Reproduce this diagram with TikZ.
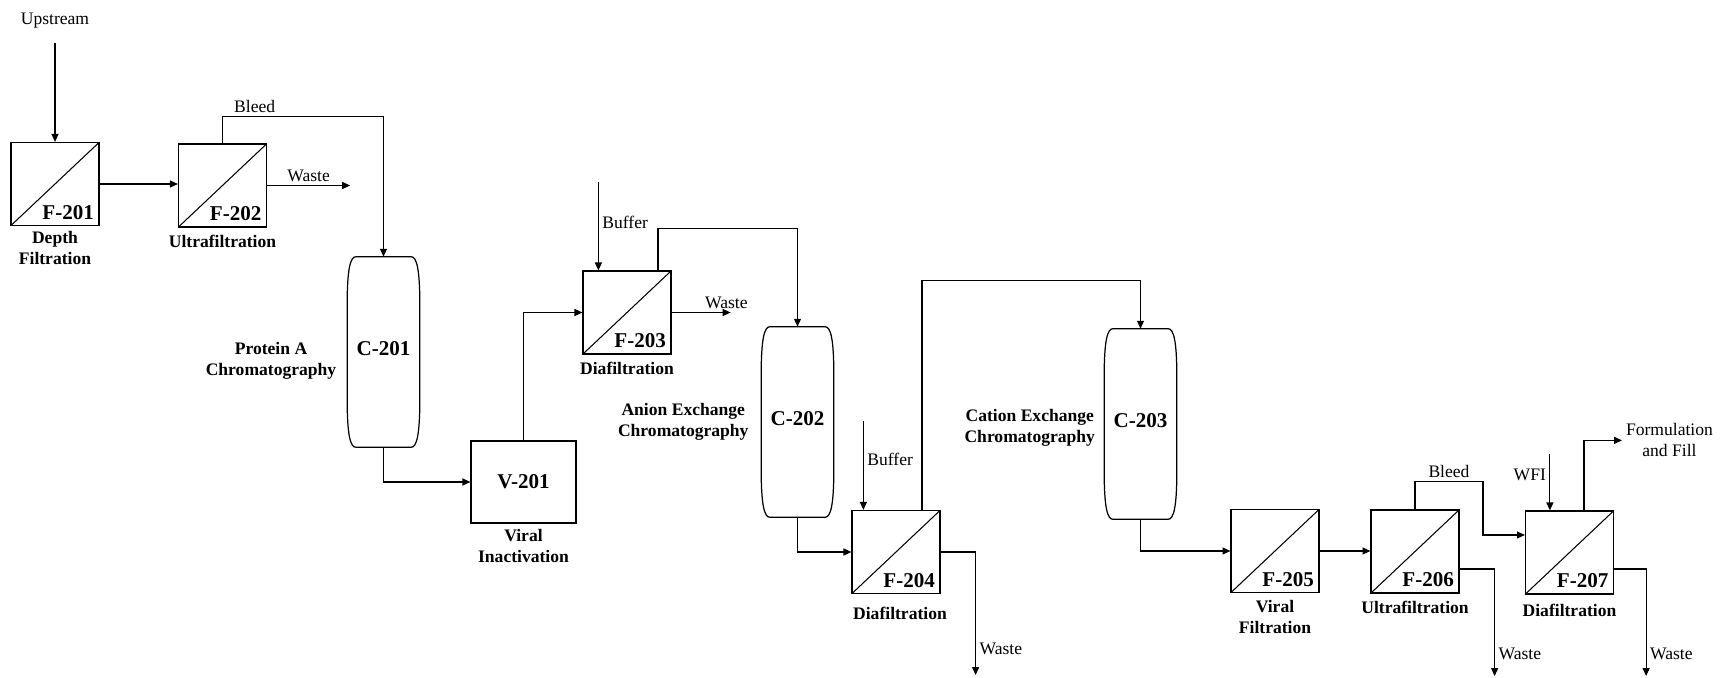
\documentclass[tikz,border=0pt]{standalone}
\usepackage{fontspec}
\setmainfont{LiberationSerif}[Extension=.ttf, UprightFont=*-Regular, BoldFont=*-Bold, ItalicFont=*-Italic, BoldItalicFont=*-BoldItalic]
\usetikzlibrary{arrows.meta, positioning, calc}

\tikzset{
  filter/.style={draw, line width=0.7pt, minimum width=1.76cm, minimum height=1.66cm, inner sep=0pt,
    path picture={\draw[line width=0.6pt] (path picture bounding box.south west) -- (path picture bounding box.north east);}},
  ftag/.style={anchor=south east, font=\bfseries\fontsize{12}{14}\selectfont, inner xsep=3pt, inner ysep=3.5pt},
  vessel/.style={draw, line width=0.7pt, minimum width=2.1cm, minimum height=1.64cm, font=\bfseries\fontsize{12}{14}\selectfont},
  colbox/.style={minimum width=1.44cm, minimum height=3.8cm, inner sep=0pt, text depth=4.5pt, font=\bfseries\fontsize{12}{14}\selectfont},
  stage/.style={font=\bfseries\fontsize{10}{12}\selectfont, align=center, inner sep=1pt},
  stream/.style={font=\fontsize{10}{12}\selectfont, inner sep=2pt},
  pipe/.style={line width=0.6pt},
  flow/.style={pipe, -{Triangle[length=4.5pt,width=4pt]}},
}

% barrel outline round a column node
\newcommand{\barrel}[1]{%
  \draw[line width=0.7pt]
    ($(#1.north west)+(9,0)$) -- ($(#1.north east)+(-9,0)$)
    .. controls ($(#1.north east)+(-3,0)$) and ($(#1.north east)+(0,12)$) .. ($(#1.north east)+(0,50)$)
    -- ($(#1.south east)+(0,-50)$)
    .. controls ($(#1.south east)+(0,-12)$) and ($(#1.south east)+(-3,0)$) .. ($(#1.south east)+(-9,0)$)
    -- ($(#1.south west)+(9,0)$)
    .. controls ($(#1.south west)+(3,0)$) and ($(#1.south west)+(0,-12)$) .. ($(#1.south west)+(0,-50)$)
    -- ($(#1.north west)+(0,50)$)
    .. controls ($(#1.north west)+(0,12)$) and ($(#1.north west)+(3,0)$) .. cycle;}

\begin{document}
\begin{tikzpicture}[x=0.02cm, y=-0.02cm]
  \useasboundingbox (0,0) rectangle (1728,678);

  % filters
  \node[filter, label={[ftag]south east:F-201}] (f201) at (55,184) {};
  \node[filter, label={[ftag]south east:F-202}] (f202) at (222.5,185.5) {};
  \node[filter, label={[ftag]south east:F-203}] (f203) at (627,312.5) {};
  \node[filter, label={[ftag]south east:F-204}] (f204) at (896,552) {};
  \node[filter, label={[ftag]south east:F-205}] (f205) at (1275,551) {};
  \node[filter, label={[ftag]south east:F-206}] (f206) at (1415,551.5) {};
  \node[filter, label={[ftag]south east:F-207}] (f207) at (1569.5,552.5) {};

  % columns and vessel
  \node[colbox] (c201) at (383.5,352) {C-201};
  \node[colbox] (c202) at (797.5,422) {C-202};
  \node[colbox] (c203) at (1140.5,424) {C-203};
  \foreach \col in {c201,c202,c203} {\barrel{\col}}
  \node[vessel] (v201) at (523.5,482) {V-201};

  % step names
  \node[stage, below=2pt of f201] (s201) {Depth\\Filtration};
  \node[stage, below=3pt of f202] (s202) {Ultrafiltration};
  \node[stage, left=5pt of c201, yshift=-0.18cm] (sc201) {Protein A\\Chromatography};
  \node[stage, below=2pt of v201] (sv201) {Viral\\Inactivation};
  \node[stage, below=3pt of f203] (s203) {Diafiltration};
  \node[stage, left=6pt of c202] (sc202) {Anion Exchange\\Chromatography};
  \node[stage, below=6pt of f204, xshift=0.08cm] (s204) {Diafiltration};
  \node[stage, left=4pt of c203, yshift=-0.08cm] (sc203) {Cation Exchange\\Chromatography};
  \node[stage, below=3pt of f205] (s205) {Viral\\Filtration};
  \node[stage, below=3pt of f206] (s206) {Ultrafiltration};
  \node[stage, below=4pt of f207] (s207) {Diafiltration};

  % streams
  \node[stream] (upstream) at (55,21) {Upstream};
  \draw[flow, shorten <=6pt] (upstream.south) -- (f201.north);
  \draw[flow] (f201.east) -- (f201.east -| f202.west);
  \draw[flow] (f202.east) -- ++(83,0) node[stream, above, midway] (lw202) {Waste};
  \draw[flow] (f202.north) -- ++(0,-27) -| node[stream, above, pos=0.1] (lb202) {Bleed} (c201.north);
  \draw[flow] (c201.south) |- (v201.west);
  \draw[flow] (v201.north) |- (f203.west);
  \coordinate (buf203) at ($(f203.north west)+(16,-88)$);
  \draw[flow] (buf203) -- (buf203 |- f203.north) node[stream, right, pos=0.45] (lbuf203) {Buffer};
  \draw[flow] (f203.east) -- ++(59,0) node[stream, above right, pos=0.5] (lw203) {Waste};
  \draw[flow] ($(f203.north)+(31,0)$) -- ++(0,-42) -| (c202.north);
  \draw[flow] (c202.south) |- (f204.west);
  \coordinate (buf204) at ($(f204.north west)+(12,-89)$);
  \draw[flow] (buf204) -- (buf204 |- f204.north) node[stream, right, pos=0.43] (lbuf204) {Buffer};
  \draw[flow] ($(f204.north)+(26,0)$) -- ++(0,-229) -| (c203.north);
  \draw[flow] (f204.east) -- ++(35,0) -- ++(0,123) node[stream, right, pos=0.79] (lw204) {Waste};
  \draw[flow] (c203.south) |- (f205.west);
  \draw[flow] (f205.east) -- (f205.east -| f206.west);
  \draw[flow] (f206.north) -- ++(0,-28) -- node[stream, above] (lb206) {Bleed} ++(68,0) |- ($(f207.west)+(0,-17.5)$);
  \draw[flow] ($(f206.east)+(0,17.5)$) -- ++(35,0) -- ++(0,107) node[stream, right, pos=0.79] (lw206) {Waste};
  \coordinate (wfi) at ($(f207.north west)+(25,-56)$);
  \draw[flow] (wfi) -- (wfi |- f207.north) node[stream, left, pos=0.36] (lwfi) {WFI};
  \draw[flow] ($(f207.north)+(14.5,0)$) -- ++(0,-70) -- ++(38,0) node[stream, right, align=center] (lfill) {Formulation\\and Fill};
  \draw[flow] ($(f207.east)+(0,16.5)$) -- ++(32,0) -- ++(0,107) node[stream, right, pos=0.79] (lw207) {Waste};
\end{tikzpicture}
\end{document}
